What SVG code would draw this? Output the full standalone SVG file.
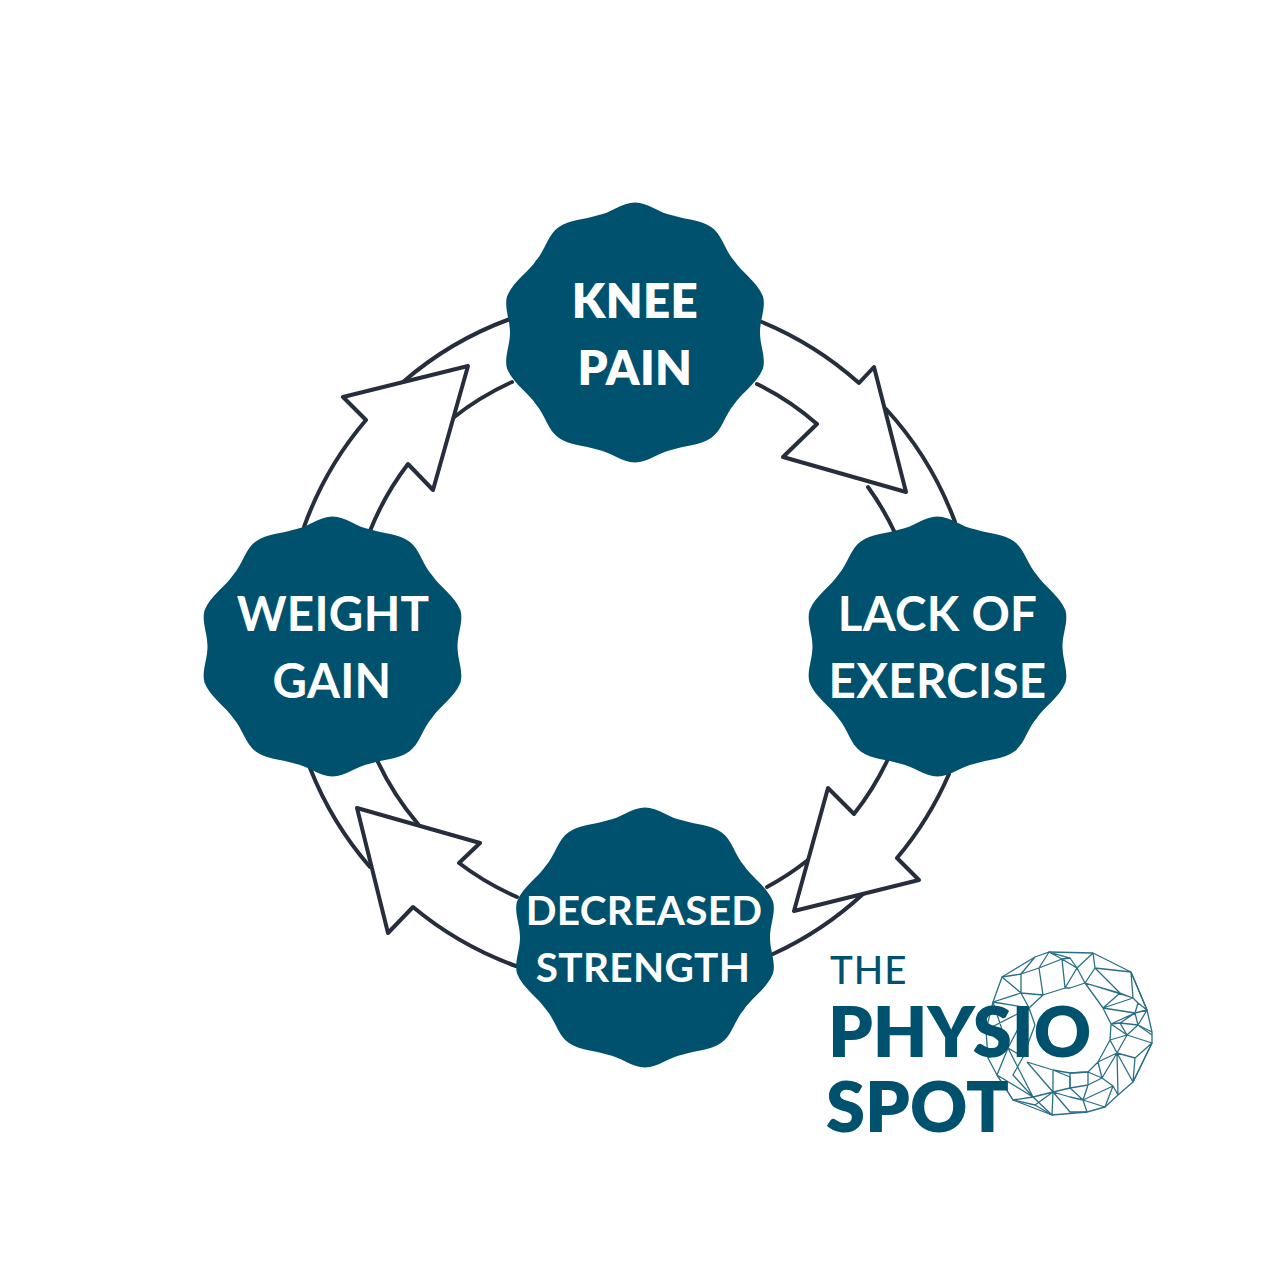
<svg xmlns="http://www.w3.org/2000/svg" width="1270" height="1270" viewBox="0 0 1270 1270">
<style>
text{font-family:Lato,"Noto Sans",sans-serif;text-anchor:middle}
.b{fill:#00516d}
.t{fill:#fff;font-weight:800;font-size:47.500px;letter-spacing:.4px}
.m{fill:#fff;font-weight:700;font-size:47.500px;letter-spacing:.3px}
.c{fill:#fff;stroke:#262e3e;stroke-width:4;stroke-linejoin:round;stroke-linecap:round}
.a{fill:none;stroke:#262e3e;stroke-width:4;stroke-linecap:round}
.w{fill:none;stroke:#2a6f86;stroke-width:1.3;stroke-linejoin:round}
.l{fill:#00516d;font-weight:800;font-size:70.500px;text-anchor:start}
</style>
<defs>
<path id="badge" d="M0,-130C13,-130 25,-119 38,-117C50,-113 66,-113 76.400,-105.200C87,-98 90,-82 99,-72C106,-61 122,-51 128,-36C131,-25 125,-13 125,0C125,13 131,25 128,36C122,51 106,61 99,72C90,82 87,98 76.400,105.200C66,113 50,113 38,117C25,119 13,130 0,130C-13,130 -25,119 -38,117C-50,113 -66,113 -76.400,105.200C-87,98 -90,82 -99,72C-106,61 -122,51 -128,36C-131,25 -125,13 -125,0C-125,-13 -131,-25 -128,-36C-122,-51 -106,-61 -99,-72C-90,-82 -87,-98 -76.400,-105.200C-66,-113 -50,-113 -38,-117C-25,-119 -13,-130 0,-130Z"/>
</defs>
<rect width="1270" height="1270" fill="#fff"/>
<g id="connectors">
<path class="a" d="M886,409A342,342 0 0 1 955,522M868,487A281,281 0 0 1 895,533"/>
<path class="a" d="M808,860A281,281 0 0 1 767,887M863,894A342,342 0 0 1 773,954"/>
<path class="a" d="M370,867A342,342 0 0 1 310,768M418,824A281,281 0 0 1 377,760"/>
<path class="a" d="M403,382A342,342 0 0 1 510,319M453,418A281,281 0 0 1 512,382"/>
<path class="c" d="M762,322A342,342 0 0 1 859,383L874,367L906,492L783,457L817,424A281,281 0 0 0 757,384"/>
<path class="c" d="M888,759A281,281 0 0 1 854,814L828,788L794,911L919,880L897,858A342,342 0 0 0 949,774"/>
<path class="c" d="M517,897A281,281 0 0 1 459,863L480,843L357,808L388,933L413,907A342,342 0 0 0 516,966"/>
<path class="c" d="M304,527A342,342 0 0 1 366,420L343,397L468,366L433,490L408,464A281,281 0 0 0 370,531"/>
</g>
<g id="node-knee-pain">
<use href="#badge" class="b" x="635" y="332.500"/>
<text class="t" x="635" y="318">KNEE</text>
<text class="t" x="635" y="385">PAIN</text>
</g>
<g id="node-lack-of-exercise">
<use href="#badge" class="b" x="937.500" y="646.500"/>
<text class="m" x="937.500" y="631">LACK OF</text>
<text class="m" x="937.500" y="698">EXERCISE</text>
</g>
<g id="node-decreased-strength">
<use href="#badge" class="b" x="645" y="937.500"/>
<text class="m" x="644" y="925" style="font-size:40.500px">DECREASED</text>
<text class="m" x="643" y="982" style="font-size:40.500px">STRENGTH</text>
</g>
<g id="node-weight-gain">
<use href="#badge" class="b" x="332.500" y="646.500"/>
<text class="m" x="333" y="631">WEIGHT</text>
<text class="m" x="332" y="698">GAIN</text>
</g>
<g id="logo">
<path class="w" d="M1049,952L1093,953L1131,972L1147,1010L1152,1032L1152,1043L1133,1082L1118,1095L1105,1107L1087,1112L1052,1115L1035,1105L1013,1100L997,1075L988,1058L986,1030L993,1002L1002,977L1035,957Z"/>
<path class="w" d="M1035,957L1021,974L1002,977L1021,993L993,1002L1029,1008L1021,993L1021,974L1039,968L1049,952L1062,959L1070,958L1049,952M1039,968L1043,995L1021,993M1039,968L1062,959L1065,988L1043,995L1029,1008L1035,1025M1062,959L1077,968L1093,953M1077,968L1085,983L1070,988L1065,988M1070,958L1077,968L1065,988M1029,1008L986,1030M993,1002L1008,1048M1029,1008L1008,1048M1035,1025L1023,1057"/>
<path class="w" d="M1093,953L1095,968L1131,972M1095,968L1120,993L1085,983L1095,968M1120,993L1103,1008L1085,983M1085,983L1133,998L1131,972M1103,1008L1133,998L1138,1003L1147,1010L1135,1013L1103,1008L1111,1024L1135,1013L1138,1003M1135,1013L1138,1025L1152,1032M1147,1010L1138,1025L1120,1023L1135,1013M1131,972L1147,1010M1120,993L1133,998M1111,1024L1120,1023L1127,1035L1111,1024L1110,1040L1098,1062"/>
<path class="w" d="M1138,1025L1127,1035L1152,1043L1135,1058L1133,1082L1117,1053L1135,1058M1152,1043L1133,1082M1127,1035L1117,1053L1118,1095M1110,1040L1117,1053L1098,1062L1102,1078L1117,1053M1127,1035L1110,1040M1102,1078L1088,1072L1070,1073M1088,1072L1098,1062M1102,1078L1088,1085L1088,1072M1088,1085L1070,1088M1088,1085L1083,1100L1113,1086L1105,1107L1083,1100L1087,1112M1113,1086L1118,1095M1102,1078L1113,1086M1083,1100L1070,1088L1053,1092L1070,1112L1087,1112M1138,1025L1152,1035M1070,1073L1070,1088M1053,1092L1070,1097L1083,1100"/>
<path class="w" d="M986,1030L1008,1048L997,1075L1033,1097L1008,1048M988,1058L1008,1048L1023,1057L1013,1075L1033,1097M1027,1062L1053,1092L1053,1070L1027,1062M1053,1070L1070,1077L1070,1088M1053,1092L1033,1097L1013,1100L1052,1115L1033,1097M997,1075L1013,1100M1053,1092L1035,1105M1053,1092L1052,1115M1053,1070L1070,1073L1088,1072"/>
<text class="l" x="830" y="984" style="font-size:38.500px;font-weight:500;letter-spacing:1px">THE</text>
<text class="l" x="828" y="1057">PHYSIO</text>
<text class="l" x="826" y="1132">SPOT</text>
</g>
</svg>
